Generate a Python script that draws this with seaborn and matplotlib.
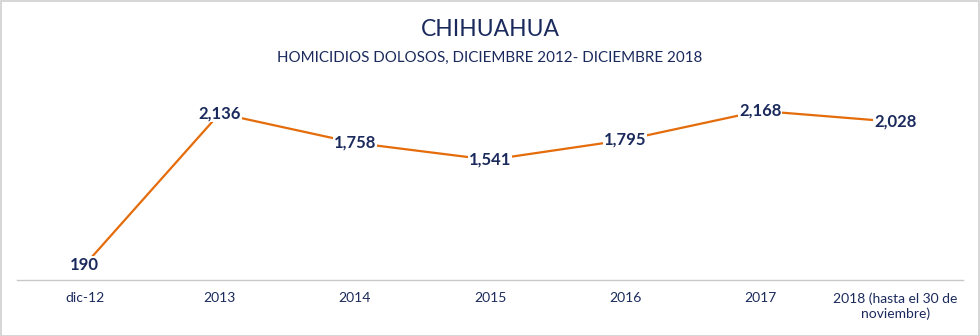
import matplotlib
matplotlib.use("Agg")
import matplotlib.pyplot as plt
import seaborn as sns
import pandas as pd
from matplotlib.patches import Rectangle

categories = ["dic-12", "2013", "2014", "2015", "2016", "2017", "2018 (hasta el 30 de\nnoviembre)"]
values = [190, 2136, 1758, 1541, 1795, 2168, 2028]
title = "CHIHUAHUA"
subtitle = "HOMICIDIOS DOLOSOS, DICIEMBRE 2012- DICIEMBRE 2018"

sns.set_theme(style="white")
plt.rcParams['font.family'] = ['Lato', 'DejaVu Sans']

navy = "#1B2A5C"
orange = "#E46C0A"

df = pd.DataFrame({"cat": categories, "val": values})
fig = plt.figure(figsize=(9.8, 3.36), dpi=100)
ax = fig.add_axes([17/980, 56/336, 946/980, (280-85)/336])

sns.lineplot(data=df, x="cat", y="val", sort=False, color=orange, linewidth=1.6, ax=ax)

ax.set_xlim(-0.5, len(categories) - 0.5)
ax.set_ylim(0, 2500)
ax.set_yticks([])
ax.set_xlabel("")
ax.set_ylabel("")
for s in ["top", "right", "left"]:
    ax.spines[s].set_visible(False)
ax.spines["bottom"].set_color("#C8C8C8")
ax.spines["bottom"].set_linewidth(1.0)
ax.tick_params(axis="x", length=0, pad=9, labelsize=10, labelcolor=navy)

for i, v in enumerate(values):
    ax.text(i, v, f"{v:,}", ha="center", va="center", fontsize=12, fontweight="bold",
            color=navy, bbox=dict(boxstyle="square,pad=0.05", fc="white", ec="none"))

fig.text(0.5, 1 - 29/336, title, ha="center", va="center", fontsize=16.5, color=navy)
fig.text(0.5, 1 - 57.5/336, subtitle, ha="center", va="center", fontsize=10.9, color=navy)

fig.patches.append(Rectangle((0.5/980, 0.5/336), 978.5/980, 334.5/336, transform=fig.transFigure,
                             fill=False, ec="#D0D0D0", lw=1.2))

fig.savefig("out.png", dpi=100)
